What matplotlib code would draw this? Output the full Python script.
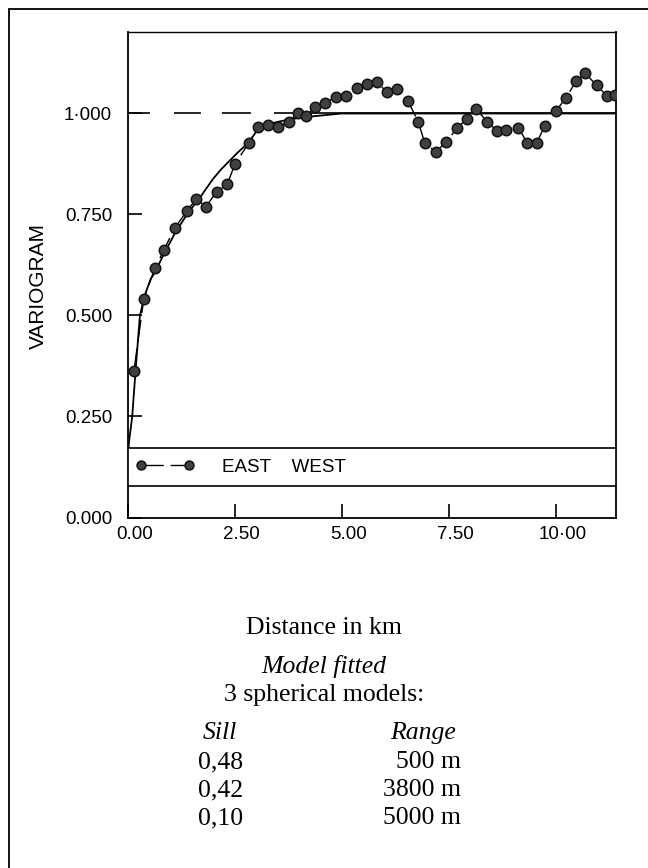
import matplotlib
matplotlib.use("Agg")
import matplotlib.pyplot as plt
import matplotlib.transforms as mtransforms
from matplotlib.patches import Rectangle

plt.rcParams["font.family"] = "Liberation Sans"
plt.rcParams["lines.scale_dashes"] = False

# experimental variogram, east-west direction (lag in km)
lag_km = [0.15, 0.38, 0.64, 0.85, 1.10, 1.39, 1.61, 1.83, 2.08, 2.33,
          2.51, 2.84, 3.05, 3.29, 3.52, 3.77, 3.98, 4.17, 4.38, 4.61,
          4.87, 5.10, 5.35, 5.60, 5.82, 6.06, 6.29, 6.55, 6.79, 6.94,
          7.20, 7.44, 7.69, 7.92, 8.15, 8.40, 8.63, 8.85, 9.13, 9.33,
          9.56, 9.74, 10.00, 10.24, 10.48, 10.69, 10.96, 11.19, 11.38]
gamma = [0.363, 0.541, 0.617, 0.662, 0.716, 0.759, 0.789, 0.769, 0.806, 0.825,
         0.875, 0.928, 0.967, 0.972, 0.967, 0.980, 1.002, 0.994, 1.017, 1.025,
         1.042, 1.043, 1.062, 1.072, 1.078, 1.053, 1.061, 1.031, 0.980, 0.928,
         0.905, 0.929, 0.963, 0.986, 1.010, 0.980, 0.957, 0.959, 0.965, 0.928,
         0.928, 0.968, 1.005, 1.039, 1.080, 1.099, 1.070, 1.044, 1.045]

# fitted model: 3 nested spherical structures
model_km = [0.0, 0.05, 0.11, 0.19, 0.29, 0.37, 0.42, 0.54, 0.64, 0.84,
            1.13, 1.42, 1.70, 1.99, 2.18, 2.57, 2.83, 3.04, 3.27, 3.58,
            4.05, 4.52, 5.00, 11.5]
model_gamma = [0.15, 0.20, 0.25, 0.366, 0.50, 0.535, 0.555, 0.59, 0.607, 0.65,
               0.708, 0.755, 0.793, 0.837, 0.861, 0.903, 0.928, 0.96, 0.973, 0.981,
               0.99, 0.995, 1.0, 1.0]

SILL = 1.0
x_ticks = [0.0, 2.5, 5.0, 7.5, 10.0]
x_labels = ["0.00", "2.50", "5.00", "7.50", "10·00"]
y_ticks = [0.0, 0.25, 0.5, 0.75, 1.0]
y_labels = ["0.000", "0.250", "0.500", "0.750", "1·000"]

sills = ["0,48", "0,42", "0,10"]
ranges = ["500 m", "3800 m", "5000 m"]

W, H = 648, 868
fig = plt.figure(figsize=(W / 100, H / 100), dpi=100)

# page frame
fig.patches.append(Rectangle((9 / W, -0.1), 1.2, 1.1 - 9 / H, transform=fig.transFigure,
                             fill=False, lw=1.3, ec="black"))

ax = fig.add_axes([127.5 / W, 1 - 517.5 / H, (616 - 127.5) / W, (517.5 - 32) / H])
ax.set_xlim(0, 11.41)
ax.set_ylim(0, 1.2017)

ax.plot(model_km, model_gamma, color="black", lw=1.3, zorder=2)
ax.axhline(SILL, color="black", lw=1.2, zorder=2,
           dashes=(15.8, 17.3, 19.4, 15.1, 20.9, 16.6, 600, 1))
pts, = ax.plot(lag_km, gamma, color="black", lw=1.0, dashes=(16, 5),
               marker="o", ms=7.5, mfc="#404040", mec="#111111", mew=1.1, zorder=3)

# legend band across the lower part of the plot
ax.axhspan(0.077, 0.171, fc="white", ec="black", lw=1.2, zorder=4)
leg = ax.legend([pts], ["EAST    WEST"], loc="center left",
                bbox_to_anchor=(0, 0.124 / 1.2017), frameon=False, numpoints=2,
                handlelength=3.2, handletextpad=1.45, borderaxespad=0,
                borderpad=0.4, markerscale=0.85, prop={"size": 13.5})
leg.set_zorder(5)

ax.set_xticks(x_ticks)
ax.set_xticklabels(x_labels)
ax.set_yticks(y_ticks)
ax.set_yticklabels(y_labels)
ax.tick_params(direction="in", length=10, width=1.2, labelsize=13.5)
ax.tick_params(axis="x", pad=6)
ax.tick_params(axis="y", pad=11)
for s in ax.spines.values():
    s.set_linewidth(1.3)
ax.spines["top"].set_linewidth(1.0)

shift = mtransforms.ScaledTranslation(0.07, 0, fig.dpi_scale_trans)
for lbl in ax.get_xticklabels():
    lbl.set_transform(lbl.get_transform() + shift)

fig.text(38 / W, 1 - 286 / H, "VARIOGRAM", rotation=90, ha="center", va="center",
         fontsize=15)

serif = "Liberation Serif"
fig.text(0.5, 1 - 628 / H, "Distance in km", ha="center", va="center",
         family=serif, fontsize=18.5)
fig.text(0.5, 1 - 667 / H, "Model fitted", ha="center", va="center",
         family=serif, style="italic", fontsize=18.5)
fig.text(0.5, 1 - 695 / H, "3 spherical models:", ha="center", va="center",
         family=serif, fontsize=18.5)
fig.text(203 / W, 1 - 733 / H, "Sill", ha="left", va="center",
         family=serif, style="italic", fontsize=18.5)
fig.text(456 / W, 1 - 733 / H, "Range", ha="right", va="center",
         family=serif, style="italic", fontsize=18.5)
for i, (s, r) in enumerate(zip(sills, ranges)):
    y = 1 - (762 + 28 * i) / H
    fig.text(198 / W, y, s, ha="left", va="center", family=serif, fontsize=18.5)
    fig.text(461 / W, y, r, ha="right", va="center", family=serif, fontsize=18.5)

fig.savefig("out.png", dpi=100)
